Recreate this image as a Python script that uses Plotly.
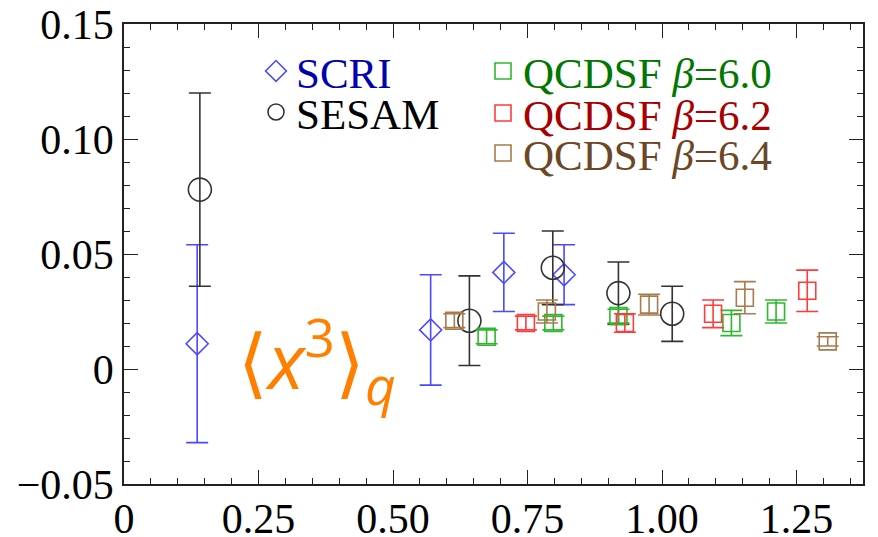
import plotly.graph_objects as go

# ---- data ----
scri_x = [0.136, 0.570, 0.706, 0.818]
scri_y = [0.011, 0.017, 0.042, 0.041]
scri_err = [0.043, 0.024, 0.017, 0.013]

sesam_x = [0.141, 0.642, 0.797, 0.919, 1.019]
sesam_y = [0.078, 0.021, 0.044, 0.033, 0.024]
sesam_err = [0.042, 0.0195, 0.016, 0.0135, 0.012]

q60_x = [0.674, 0.798, 0.919, 1.129, 1.212]
q60_y = [0.014, 0.020, 0.023, 0.020, 0.025]
q60_err = [0.003, 0.003, 0.003, 0.0055, 0.005]

q62_x = [0.747, 0.931, 1.095, 1.270]
q62_y = [0.020, 0.020, 0.024, 0.034]
q62_err = [0.003, 0.004, 0.006, 0.009]

q64_x = [0.614, 0.786, 0.976, 1.154, 1.308]
q64_y = [0.021, 0.025, 0.028, 0.031, 0.012]
q64_err = [0.003, 0.005, 0.0045, 0.007, 0.002]

x_tickvals = [0, 0.25, 0.5, 0.75, 1.0, 1.25]
x_ticktext = ["0", "0.25", "0.50", "0.75", "1.00", "1.25"]
y_tickvals = [-0.05, 0, 0.05, 0.10, 0.15]
y_ticktext = ["\u22120.05", "0", "0.05", "0.10", "0.15"]

SERIF = "Liberation Serif, Times New Roman, serif"

series = [
    dict(name="SCRI", x=scri_x, y=scri_y, e=scri_err, symbol="diamond-open", size=17,
         mcolor="#4a4aff", tcolor="#0000b0", legend="legend"),
    dict(name="SESAM", x=sesam_x, y=sesam_y, e=sesam_err, symbol="circle-open", size=23,
         mcolor="#333333", tcolor="#000000", legend="legend2"),
    dict(name="QCDSF <i>\u03b2</i>=6.0", x=q60_x, y=q60_y, e=q60_err, symbol="square-open", size=17,
         mcolor="#2db82d", tcolor="#007800", legend="legend3"),
    dict(name="QCDSF <i>\u03b2</i>=6.2", x=q62_x, y=q62_y, e=q62_err, symbol="square-open", size=17,
         mcolor="#ff3b3b", tcolor="#a80000", legend="legend4"),
    dict(name="QCDSF <i>\u03b2</i>=6.4", x=q64_x, y=q64_y, e=q64_err, symbol="square-open", size=17,
         mcolor="#a87a4c", tcolor="#6b4726", legend="legend5"),
]

fig = go.Figure()
for s in series:
    fig.add_trace(go.Scatter(
        x=s["x"], y=s["y"], mode="markers", name=s["name"], legend=s["legend"],
        marker=dict(symbol=s["symbol"], size=s["size"], color=s["mcolor"],
                    line=dict(width=1.6, color=s["mcolor"])),
        error_y=dict(type="data", array=s["e"], visible=True, color=s["mcolor"],
                     thickness=1.6, width=11),
    ))

# plot area on screen: x 124..863, y 24..484 (page body adds an 8px offset)
def px_x(p):
    return (p - 124) / 739.0

def px_y(p):
    return (484 - p) / 460.0

leg_common = dict(bgcolor="rgba(0,0,0,0)", borderwidth=0, xanchor="left", yanchor="middle",
                  itemclick=False, itemdoubleclick=False)
legend_pos = {
    "legend": (px_x(256), px_y(71), series[0]["tcolor"]),
    "legend2": (px_x(256), px_y(112), series[1]["tcolor"]),
    "legend3": (px_x(483), px_y(71), series[2]["tcolor"]),
    "legend4": (px_x(483), px_y(113), series[3]["tcolor"]),
    "legend5": (px_x(483), px_y(153), series[4]["tcolor"]),
}
layout_legends = {}
for key, (lx, ly, col) in legend_pos.items():
    layout_legends[key] = dict(x=lx, y=ly, font=dict(family=SERIF, size=43, color=col), **leg_common)

axis_common = dict(showline=True, linecolor="#222222", linewidth=1.5, mirror="ticks",
                   ticks="inside", tickcolor="#222222", tickwidth=1.3,
                   showgrid=False, zeroline=False, automargin=False,
                   ticklabeloverflow="allow",
                   tickfont=dict(family=SERIF, size=42, color="#000000"))

fig.update_layout(
    width=878, height=537,
    margin=dict(l=116, r=23, t=16, b=61),
    paper_bgcolor="white", plot_bgcolor="white",
    showlegend=True,
    xaxis=dict(range=[0, 1.3736], tickvals=x_tickvals, ticktext=x_ticktext, ticklen=14,
               ticklabelstandoff=-3,
               minor=dict(dtick=0.05, tick0=0, ticks="inside", ticklen=6, tickcolor="#222222", tickwidth=1.1),
               **axis_common),
    yaxis=dict(range=[-0.05, 0.15], tickvals=y_tickvals, ticktext=y_ticktext, ticklen=14,
               minor=dict(dtick=0.01, tick0=0, ticks="inside", ticklen=6, tickcolor="#222222", tickwidth=1.1),
               **axis_common),
    **layout_legends,
)

fig.add_annotation(
    xref="paper", yref="paper", x=px_x(236), y=px_y(360), xanchor="left", yanchor="middle",
    text="\u27e8<i>x</i><sup>3</sup>\u27e9<sub><i>q</i></sub>", showarrow=False,
    font=dict(family="Open Sans, Noto Sans, sans-serif", size=76, color="#ff8000"),
)

fig.write_html("out.html")
